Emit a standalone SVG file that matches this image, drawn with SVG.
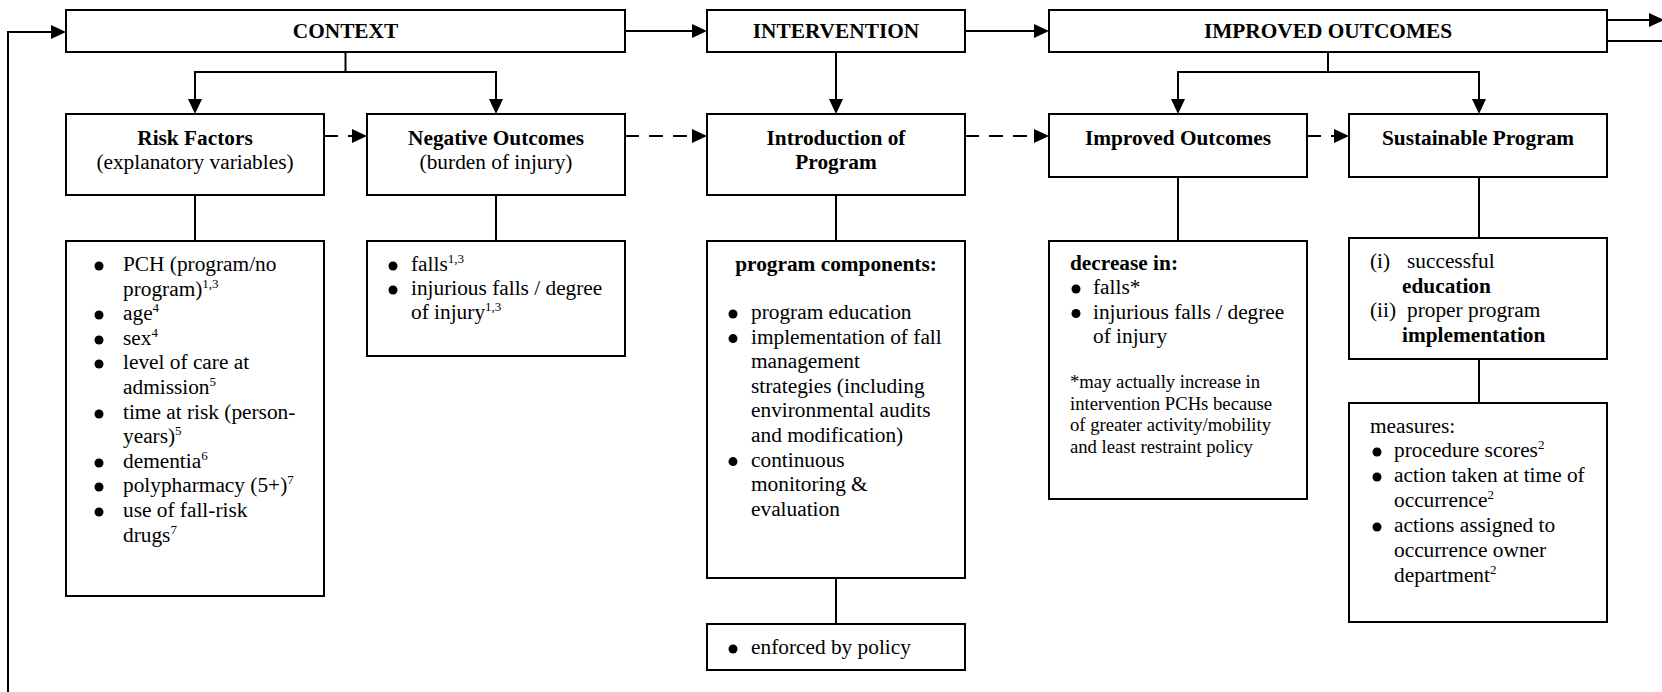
<svg xmlns="http://www.w3.org/2000/svg" width="1662" height="692" viewBox="0 0 1662 692">
  <style>
    text { font-family: "Liberation Serif", "Times New Roman", serif; font-size: 21.33px; fill: #000; }
    .b { font-weight: bold; }
    .c { text-anchor: middle; }
    .note { font-size: 18.67px; }
    .sup { font-size: 13px; }
    .box { fill: #fff; stroke: #000; stroke-width: 2; }
    .ln { fill: none; stroke: #000; stroke-width: 2; }
    .dash { stroke-dasharray: 14 10; }
    .dot { fill: #000; }
  </style>
  <defs>
    <marker id="ah" viewBox="0 0 15 14" refX="1" refY="7" markerWidth="15" markerHeight="14" markerUnits="userSpaceOnUse" orient="auto-start-reverse">
      <path d="M0,0 L15,7 L0,14 z" fill="#000"/>
    </marker>
  </defs>

  <!-- connectors -->
  <g id="connectors">
    <path class="ln" d="M8,692 V32 H52" marker-end="url(#ah)"/>
    <path class="ln" d="M625,31 H693" marker-end="url(#ah)"/>
    <path class="ln" d="M965,31 H1035" marker-end="url(#ah)"/>
    <path class="ln" d="M1607,20 H1650" marker-end="url(#ah)"/>
    <path class="ln" d="M1607,41 H1662"/>
    <path class="ln" d="M345.5,52 V72"/>
    <path class="ln" d="M195,100 V72 H496 V100" marker-start="url(#ah)" marker-end="url(#ah)"/>
    <path class="ln" d="M836,52 V100" marker-end="url(#ah)"/>
    <path class="ln" d="M1328,52 V72"/>
    <path class="ln" d="M1178,100 V72 H1479 V100" marker-start="url(#ah)" marker-end="url(#ah)"/>
    <path class="ln dash" d="M324,136 H353" marker-end="url(#ah)"/>
    <path class="ln dash" d="M625,136 H693" marker-end="url(#ah)"/>
    <path class="ln dash" d="M965,136 H1035" marker-end="url(#ah)"/>
    <path class="ln dash" d="M1307,136 H1335" marker-end="url(#ah)"/>
    <path class="ln" d="M195,195 V241 M496,195 V241 M836,195 V241 M836,578 V624 M1178,177 V241 M1479,177 V238 M1479,359 V403"/>
  </g>

  <!-- top row -->
  <g id="context">
    <rect class="box" x="66" y="10" width="559" height="42"/>
    <text class="b c" x="345.5" y="38">CONTEXT</text>
  </g>
  <g id="intervention">
    <rect class="box" x="707" y="10" width="258" height="42"/>
    <text class="b c" x="836" y="38">INTERVENTION</text>
  </g>
  <g id="improved-outcomes-header">
    <rect class="box" x="1049" y="10" width="558" height="42"/>
    <text class="b c" x="1328" y="38">IMPROVED OUTCOMES</text>
  </g>

  <!-- second row -->
  <g id="risk-factors">
    <rect class="box" x="66" y="114" width="258" height="81"/>
    <text class="b c" x="195" y="145">Risk Factors</text>
    <text class="c" x="195" y="169">(explanatory variables)</text>
  </g>
  <g id="negative-outcomes">
    <rect class="box" x="367" y="114" width="258" height="81"/>
    <text class="b c" x="496" y="145">Negative Outcomes</text>
    <text class="c" x="496" y="169">(burden of injury)</text>
  </g>
  <g id="introduction">
    <rect class="box" x="707" y="114" width="258" height="81"/>
    <text class="b c" x="836" y="145">Introduction of</text>
    <text class="b c" x="836" y="169">Program</text>
  </g>
  <g id="improved-outcomes">
    <rect class="box" x="1049" y="114" width="258" height="63"/>
    <text class="b c" x="1178" y="145">Improved Outcomes</text>
  </g>
  <g id="sustainable-program">
    <rect class="box" x="1349" y="114" width="258" height="63"/>
    <text class="b c" x="1478" y="145">Sustainable Program</text>
  </g>

  <!-- detail boxes -->
  <g id="risk-list">
    <rect class="box" x="66" y="241" width="258" height="355"/>
    <circle class="dot" cx="99" cy="266" r="4.5"/>
    <circle class="dot" cx="99" cy="315" r="4.5"/>
    <circle class="dot" cx="99" cy="340" r="4.5"/>
    <circle class="dot" cx="99" cy="364" r="4.5"/>
    <circle class="dot" cx="99" cy="414" r="4.5"/>
    <circle class="dot" cx="99" cy="463" r="4.5"/>
    <circle class="dot" cx="99" cy="487" r="4.5"/>
    <circle class="dot" cx="99" cy="512" r="4.5"/>
    <text x="123" y="271">PCH (program/no</text>
    <text x="123" y="295.6">program)<tspan class="sup" dy="-8">1,3</tspan></text>
    <text x="123" y="320.2">age<tspan class="sup" dy="-8">4</tspan></text>
    <text x="123" y="344.8">sex<tspan class="sup" dy="-8">4</tspan></text>
    <text x="123" y="369.4">level of care at</text>
    <text x="123" y="394">admission<tspan class="sup" dy="-8">5</tspan></text>
    <text x="123" y="418.6">time at risk (person-</text>
    <text x="123" y="443.2">years)<tspan class="sup" dy="-8">5</tspan></text>
    <text x="123" y="467.8">dementia<tspan class="sup" dy="-8">6</tspan></text>
    <text x="123" y="492.4">polypharmacy (5+)<tspan class="sup" dy="-8">7</tspan></text>
    <text x="123" y="517">use of fall-risk</text>
    <text x="123" y="541.6">drugs<tspan class="sup" dy="-8">7</tspan></text>
  </g>

  <g id="negative-list">
    <rect class="box" x="367" y="241" width="258" height="115"/>
    <circle class="dot" cx="393" cy="266" r="4.5"/>
    <circle class="dot" cx="393" cy="290" r="4.5"/>
    <text x="411" y="271">falls<tspan class="sup" dy="-8">1,3</tspan></text>
    <text x="411" y="295">injurious falls / degree</text>
    <text x="411" y="319">of injury<tspan class="sup" dy="-8">1,3</tspan></text>
  </g>

  <g id="program-components">
    <rect class="box" x="707" y="241" width="258" height="337"/>
    <text class="b c" x="836" y="271">program components:</text>
    <circle class="dot" cx="733" cy="314" r="4.5"/>
    <circle class="dot" cx="733" cy="338.6" r="4.5"/>
    <circle class="dot" cx="733" cy="461.6" r="4.5"/>
    <text x="751" y="319">program education</text>
    <text x="751" y="343.6">implementation of fall</text>
    <text x="751" y="368.2">management</text>
    <text x="751" y="392.8">strategies (including</text>
    <text x="751" y="417.4">environmental audits</text>
    <text x="751" y="442">and modification)</text>
    <text x="751" y="466.6">continuous</text>
    <text x="751" y="491.2">monitoring &amp;</text>
    <text x="751" y="515.8">evaluation</text>
  </g>

  <g id="policy">
    <rect class="box" x="707" y="624" width="258" height="46"/>
    <circle class="dot" cx="733" cy="649" r="4.5"/>
    <text x="751" y="654">enforced by policy</text>
  </g>

  <g id="decrease">
    <rect class="box" x="1049" y="241" width="258" height="258"/>
    <text class="b" x="1070" y="270">decrease in:</text>
    <circle class="dot" cx="1076" cy="289" r="4.5"/>
    <circle class="dot" cx="1076" cy="313.5" r="4.5"/>
    <text x="1093" y="294">falls*</text>
    <text x="1093" y="318.5">injurious falls / degree</text>
    <text x="1093" y="343">of injury</text>
    <!-- footnote in the smaller size -->
    <text class="note" x="1070" y="388">*may actually increase in</text>
    <text class="note" x="1070" y="409.5">intervention PCHs because</text>
    <text class="note" x="1070" y="431">of greater activity/mobility</text>
    <text class="note" x="1070" y="452.5">and least restraint policy</text>
  </g>

  <g id="sustain-list">
    <rect class="box" x="1349" y="238" width="258" height="121"/>
    <text x="1370" y="268">(i)</text>
    <text x="1407" y="268">successful</text>
    <text class="b" x="1402" y="293">education</text>
    <text x="1370" y="317">(ii)</text>
    <text x="1407" y="317">proper program</text>
    <text class="b" x="1402" y="342">implementation</text>
  </g>

  <g id="measures">
    <rect class="box" x="1349" y="403" width="258" height="219"/>
    <text x="1370" y="433">measures:</text>
    <circle class="dot" cx="1377" cy="452" r="4.5"/>
    <circle class="dot" cx="1377" cy="477" r="4.5"/>
    <circle class="dot" cx="1377" cy="527" r="4.5"/>
    <text x="1394" y="457">procedure scores<tspan class="sup" dy="-8">2</tspan></text>
    <text x="1394" y="482">action taken at time of</text>
    <text x="1394" y="507">occurrence<tspan class="sup" dy="-8">2</tspan></text>
    <text x="1394" y="532">actions assigned to</text>
    <text x="1394" y="557">occurrence owner</text>
    <text x="1394" y="582">department<tspan class="sup" dy="-8">2</tspan></text>
  </g>
</svg>
